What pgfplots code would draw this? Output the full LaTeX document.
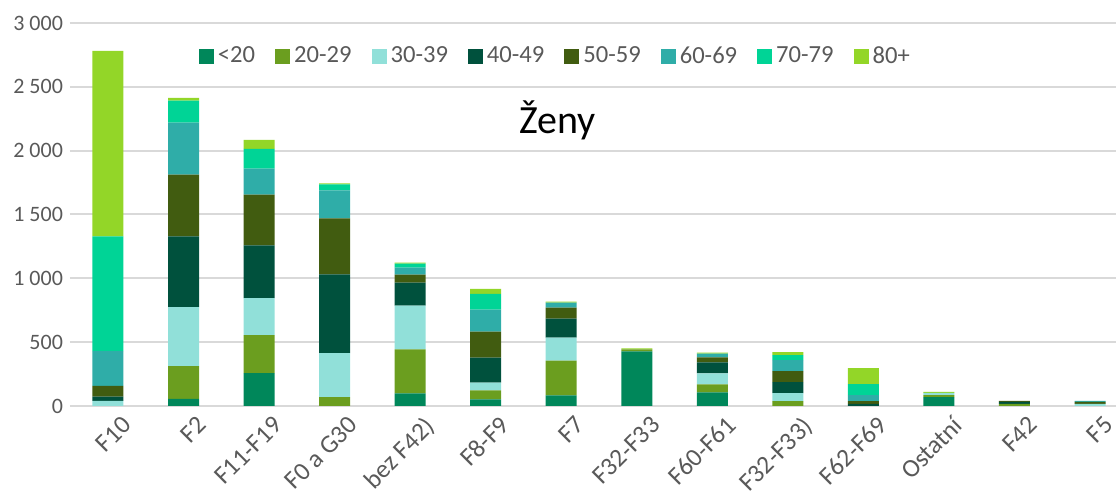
\documentclass[border=0pt]{standalone}
\usepackage{pgfplots}
\pgfplotsset{compat=1.18}
\usepackage{fontspec}
\setmainfont{Carlito}
\definecolor{c1}{HTML}{00875A}
\definecolor{c2}{HTML}{6B9E1F}
\definecolor{c3}{HTML}{91E0D9}
\definecolor{c4}{HTML}{00513D}
\definecolor{c5}{HTML}{415C10}
\definecolor{c6}{HTML}{2FADA8}
\definecolor{c7}{HTML}{00D496}
\definecolor{c8}{HTML}{93D628}
\definecolor{gridc}{HTML}{D9D9D9}
\definecolor{tickc}{HTML}{595959}
\begin{document}
\begin{tikzpicture}
\begin{axis}[
  scale only axis,
  width=523pt, height=191.5pt,
  ybar stacked, bar width=15.5pt,
  xmin=-0.503, xmax=13.344,
  ymin=0, ymax=3000,
  ytick={0,500,1000,1500,2000,2500,3000},
  yticklabels={0,500,1 000,1 500,2 000,2 500,3 000},
  xtick={0,...,13},
  xticklabels={F10,F2,F11-F19,F0 a G30,bez F42),F8-F9,F7,F32-F33,F60-F61,F32-F33),F62-F69,Ostatní,F42,F5},
  x tick label style={rotate=45, anchor=north east, font=\fontsize{12.8}{15}\selectfont, text=tickc, inner sep=1pt, xshift=2.5pt, yshift=-6.5pt},
  y tick label style={font=\fontsize{11}{13}\selectfont, text=tickc},
  major tick length=0pt,
  axis line style={draw=none},
  ymajorgrids, grid style={gridc, line width=1pt},
  legend columns=-1,
  legend style={draw=none, fill=none, at={(0.465,0.913)}, anchor=center,
    font=\fontsize{12.3}{14}\selectfont, text=tickc,
    /tikz/every even column/.append style={column sep=8pt}},
  legend image code/.code={\fill[#1] (0pt,-3.75pt) rectangle (7.5pt,3.75pt);},
]
\addplot[fill=c1, draw=none] coordinates {(0,0) (1,55) (2,258) (3,0) (4,99) (5,52) (6,83) (7,427) (8,107) (9,0) (10,0) (11,70) (12,0) (13,0)};
\addplot[fill=c2, draw=none] coordinates {(0,0) (1,258) (2,297) (3,70) (4,344) (5,70) (6,273) (7,16) (8,62) (9,39) (10,0) (11,16) (12,16) (13,0)};
\addplot[fill=c3, draw=none] coordinates {(0,40) (1,461) (2,289) (3,344) (4,344) (5,62) (6,180) (7,0) (8,86) (9,62) (10,0) (11,16) (12,0) (13,16)};
\addplot[fill=c4, draw=none] coordinates {(0,34) (1,555) (2,414) (3,617) (4,180) (5,195) (6,148) (7,0) (8,86) (9,86) (10,16) (11,0) (12,16) (13,0)};
\addplot[fill=c5, draw=none] coordinates {(0,83) (1,484) (2,398) (3,438) (4,62) (5,203) (6,86) (7,0) (8,39) (9,86) (10,23) (11,0) (12,8) (13,16)};
\addplot[fill=c6, draw=none] coordinates {(0,273) (1,406) (2,203) (3,219) (4,55) (5,172) (6,39) (7,0) (8,31) (9,86) (10,47) (11,0) (12,0) (13,8)};
\addplot[fill=c7, draw=none] coordinates {(0,898) (1,172) (2,156) (3,47) (4,31) (5,125) (6,0) (7,0) (8,0) (9,39) (10,86) (11,0) (12,0) (13,0)};
\addplot[fill=c8, draw=none] coordinates {(0,1453) (1,23) (2,70) (3,8) (4,8) (5,39) (6,8) (7,8) (8,8) (9,23) (10,125) (11,8) (12,0) (13,0)};
\legend{<20,20-29,30-39,40-49,50-59,60-69,70-79,80+}
\node at (rel axis cs:0.466,0.745) {\fontsize{20}{24}\selectfont Ženy};
\end{axis}
\pgfresetboundingbox
\path[use as bounding box] (-35pt,-43pt) rectangle (523pt,203pt);
\end{tikzpicture}
\end{document}
